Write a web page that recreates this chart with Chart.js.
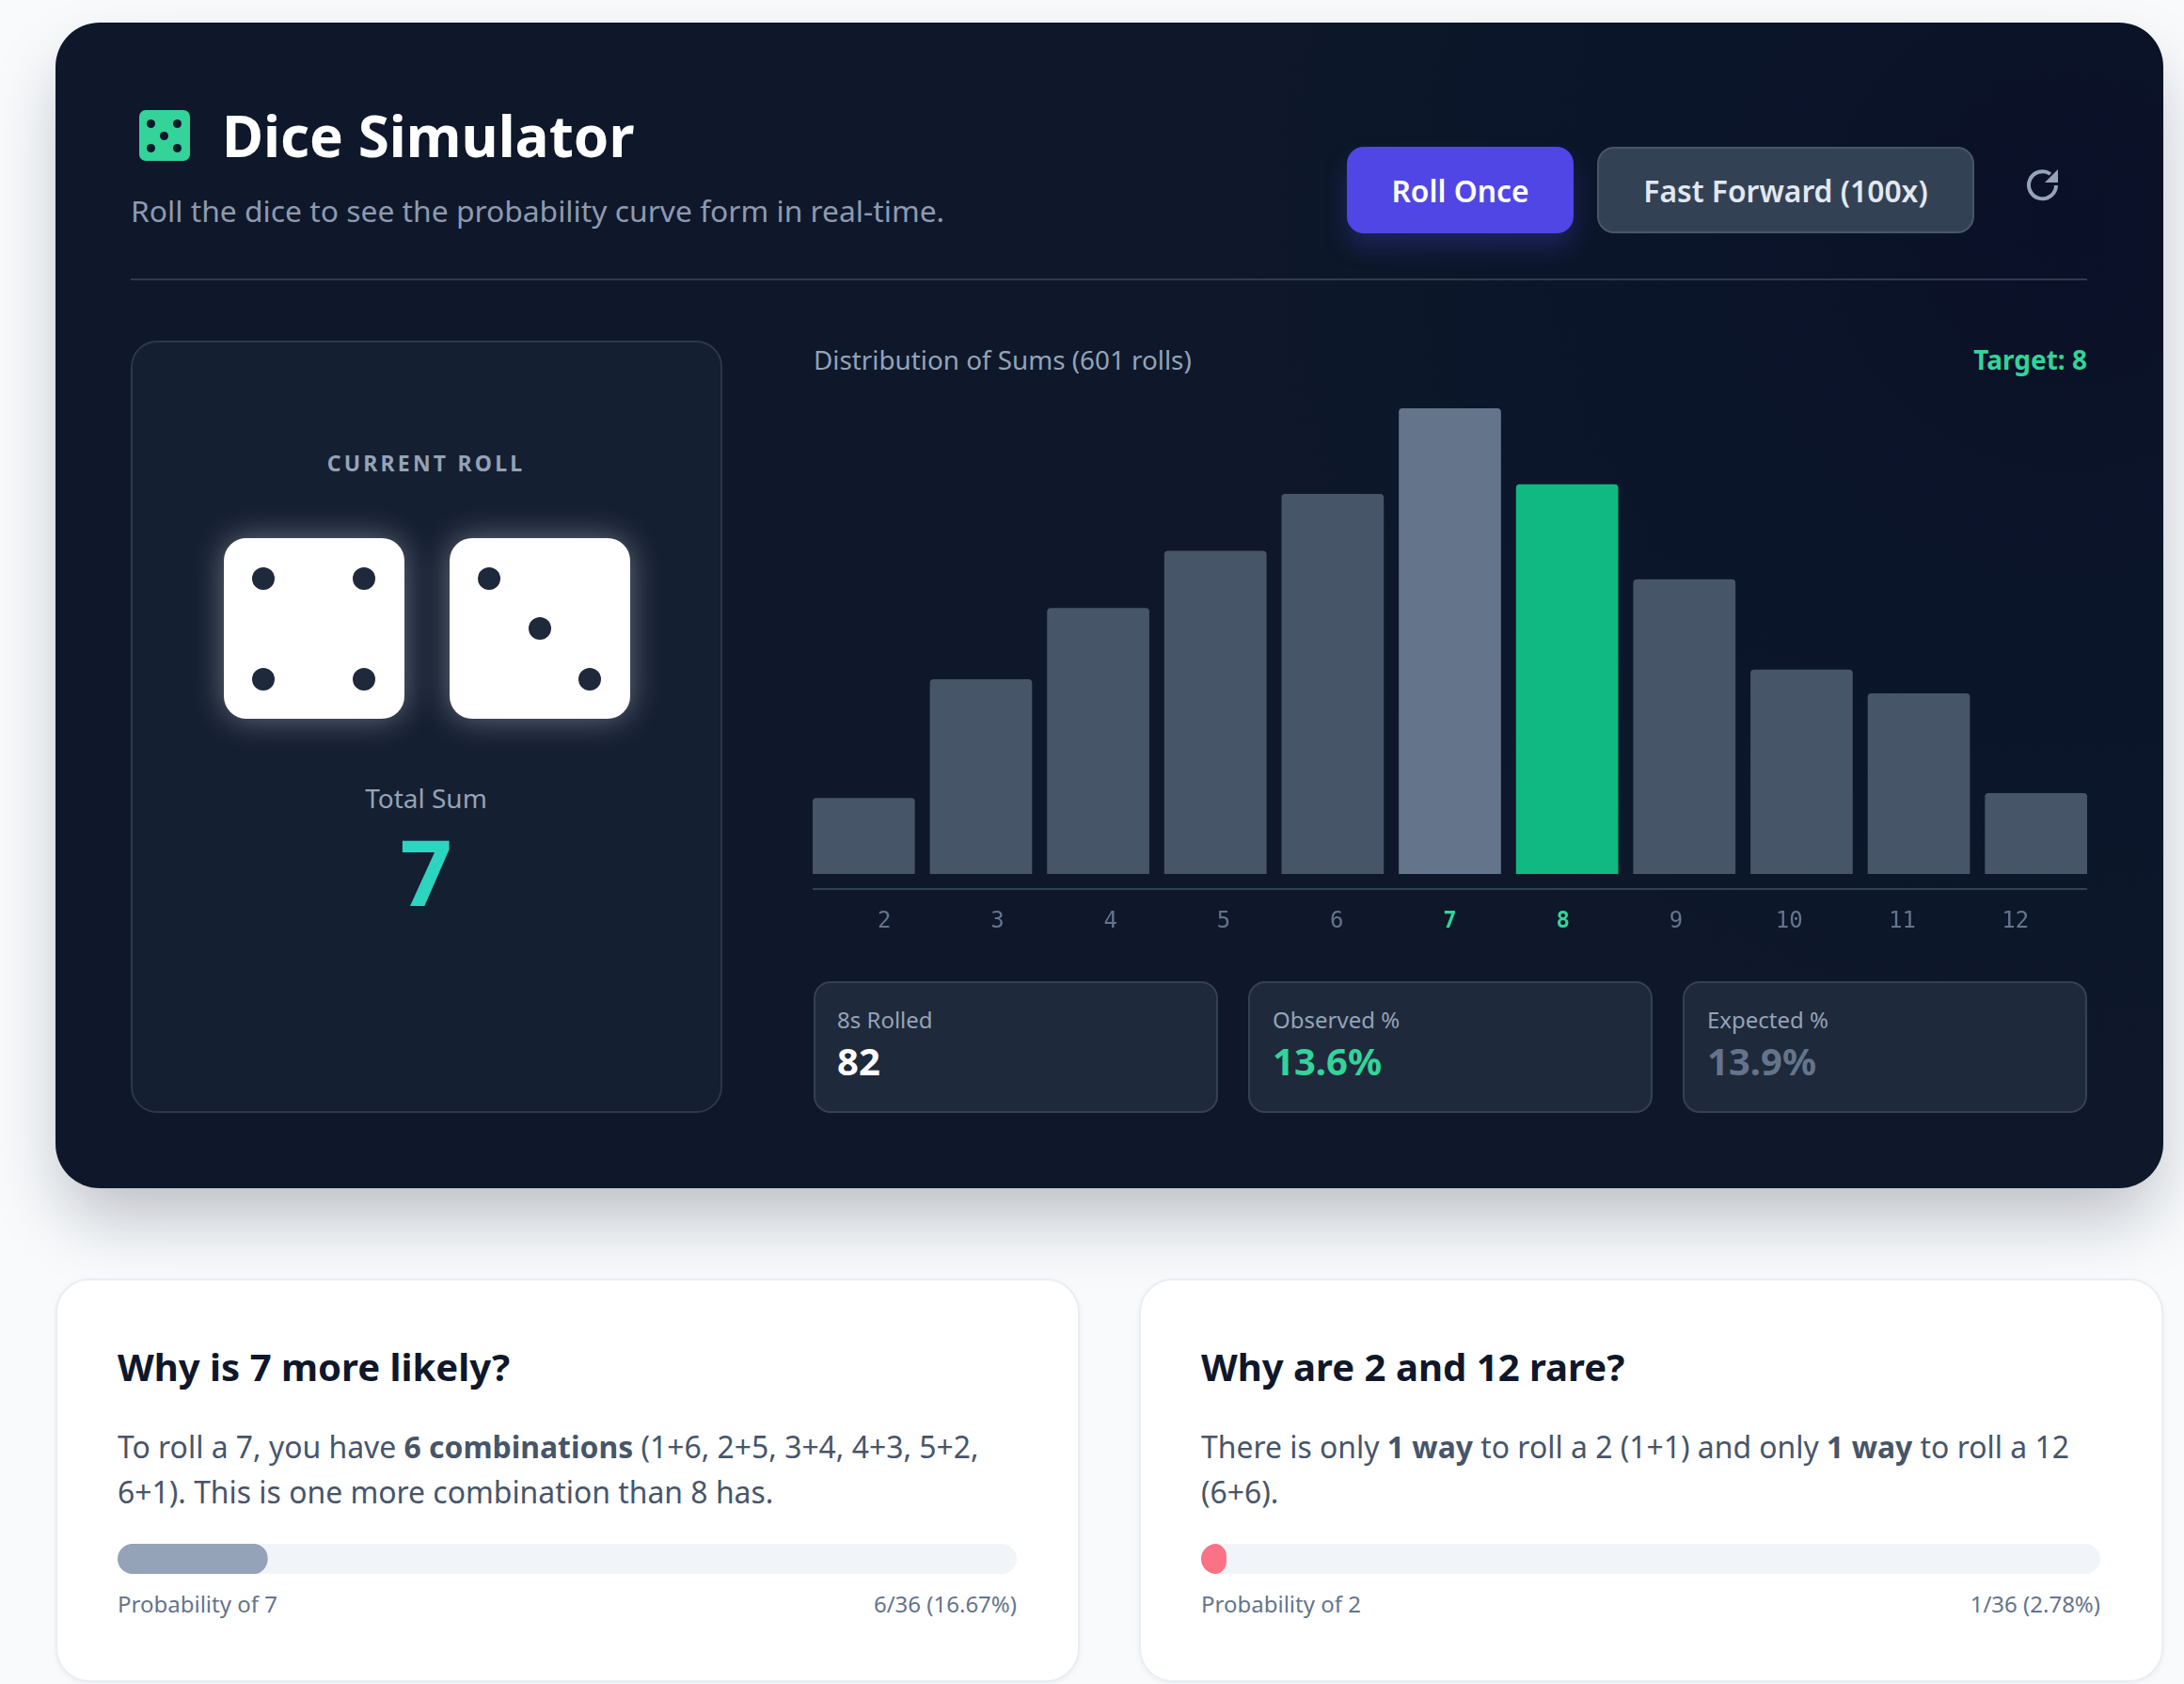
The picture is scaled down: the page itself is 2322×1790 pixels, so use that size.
<!DOCTYPE html>
<html>
<head>
<meta charset="utf-8">
<title>Dice Simulator</title>
<script src="https://cdn.jsdelivr.net/npm/chart.js@4/dist/chart.umd.min.js"></script>
<style>
  html, body { margin: 0; padding: 0; background: #f8fafc; }
  body { position: relative; width: 2322px; height: 1790px; overflow: hidden; font-family: "Noto Sans", sans-serif; }
  .abs { position: absolute; }
  .txt { position: absolute; white-space: nowrap; transform: translateY(-50%); line-height: 1.2; }
  .center { transform: translate(-50%, -50%); }
  .right { transform: translate(-100%, -50%); }
  #panel {
    left: 59px; top: 24px; width: 2241px; height: 1239px; border-radius: 47px;
    background: radial-gradient(circle at 2140px 220px, #0a1027 0, #0b152a 420px, #0e182a 900px);
    box-shadow: 0 37px 74px -10px rgba(15, 23, 42, .28);
  }
  #icon { left: 148px; top: 117px; width: 54px; height: 54px; border-radius: 7px; background: #34d399; }
  .ipip { position: absolute; width: 9px; height: 9px; border-radius: 50%; background: #0e182a; }
  .btn { position: absolute; box-sizing: border-box; top: 156px; height: 92px; border-radius: 18px; display: flex; align-items: center; justify-content: center; font-size: 31.8px; font-weight: 600; }
  #divider { left: 139px; top: 296px; width: 2080px; height: 2px; background: #2e3b4f; }
  #rollCard { left: 139px; top: 362px; width: 629px; height: 821px; box-sizing: border-box; border-radius: 28px; background: #151f32; border: 2px solid #2b384c; }
  .die { position: absolute; top: 572px; width: 192px; height: 192px; border-radius: 24px; background: #fff; box-shadow: 0 0 34px rgba(255, 255, 255, .36); }
  .pip { position: absolute; width: 24px; height: 24px; border-radius: 50%; background: #1e293b; }
  .stat { position: absolute; box-sizing: border-box; top: 1043px; width: 430px; height: 140px; border-radius: 18px; background: #1e293b; border: 2px solid #334155; }
  #chartWrap { left: 856px; top: 434px; width: 1371px; height: 571px; }
  .card { position: absolute; box-sizing: border-box; top: 1359px; width: 1089px; height: 429px; border-radius: 36px; background: #fff; border: 2px solid #e9eef4; box-shadow: 0 2px 6px rgba(15, 23, 42, .05); }
  .track { position: absolute; top: 1641px; width: 956px; height: 32px; border-radius: 16px; background: #f1f5f9; overflow: hidden; }
  .cardTitle { font-size: 40.1px; font-weight: 700; color: #0f172a; }
  .cardBody { font-size: 31.9px; color: #475569; }
  .cardBody b { font-weight: 700; }
  .barLabel { font-size: 24px; color: #64748b; }
</style>
</head>
<body>
<div class="abs" id="panel"></div>

<div class="abs" id="icon"></div>
<div class="txt" style="left:236px;top:144px;font-size:60.2px;font-weight:700;color:#fff">Dice Simulator</div>
<div class="txt" style="left:139px;top:224px;font-size:31.8px;color:#8e9ab0">Roll the dice to see the probability curve form in real-time.</div>

<div class="btn" style="left:1432px;width:241px;background:#4f46e5;color:#fff;box-shadow:0 15px 24px rgba(79,70,229,.25)">Roll Once</div>
<div class="btn" style="left:1698px;width:401px;background:#334155;border:2px solid #475569;color:#e2e8f0">Fast Forward (100x)</div>
<svg class="abs" style="left:2153px;top:178px" width="38" height="38" viewBox="0 0 38 38" fill="none">
  <path d="M33 19 A14.5 14.5 0 1 1 27 7" stroke="#94a3b8" stroke-width="4"/>
  <path d="M35 2 V16 H21 Z" fill="#94a3b8"/>
</svg>

<div class="abs" id="divider"></div>

<div class="abs" id="rollCard"></div>
<div class="txt center" style="left:453px;top:493px;font-size:23px;font-weight:700;letter-spacing:3.2px;color:#94a3b8">CURRENT ROLL</div>
<div class="die" style="left:238px">
  <div class="pip" style="left:30px;top:31px"></div>
  <div class="pip" style="left:137px;top:31px"></div>
  <div class="pip" style="left:30px;top:138px"></div>
  <div class="pip" style="left:137px;top:138px"></div>
</div>
<div class="die" style="left:478px">
  <div class="pip" style="left:30px;top:31px"></div>
  <div class="pip" style="left:84px;top:84px"></div>
  <div class="pip" style="left:137px;top:138px"></div>
</div>
<div class="txt center" style="left:453px;top:849px;font-size:28px;color:#94a3b8">Total Sum</div>
<div class="txt center" style="left:453px;top:925px;font-size:97px;font-weight:700;color:#2dd4bf">7</div>

<div class="txt" style="left:865px;top:383px;font-size:27.8px;color:#94a3b8">Distribution of Sums (601 rolls)</div>
<div class="txt right" style="left:2219px;top:383px;font-size:28px;font-weight:700;color:#34d399">Target: 8</div>

<div class="abs" id="chartWrap"><canvas id="sumsChart"></canvas></div>

<div class="stat" style="left:865px"></div>
<div class="stat" style="left:1327px"></div>
<div class="stat" style="left:1789px"></div>
<div class="txt" style="left:890px;top:1084px;font-size:24px;color:#94a3b8">8s Rolled</div>
<div class="txt" style="left:890px;top:1128px;font-size:40px;font-weight:700;color:#fff">82</div>
<div class="txt" style="left:1353px;top:1084px;font-size:24px;color:#94a3b8">Observed %</div>
<div class="txt" style="left:1353px;top:1128px;font-size:40px;font-weight:700;color:#34d399">13.6%</div>
<div class="txt" style="left:1815px;top:1084px;font-size:24px;color:#94a3b8">Expected %</div>
<div class="txt" style="left:1815px;top:1128px;font-size:40px;font-weight:700;color:#64748b">13.9%</div>

<div class="card" style="left:59px"></div>
<div class="txt cardTitle" style="left:125px;top:1453px">Why is 7 more likely?</div>
<div class="txt cardBody" style="left:125px;top:1538px">To roll a 7, you have <b>6 combinations</b> (1+6, 2+5, 3+4, 4+3, 5+2,</div>
<div class="txt cardBody" style="left:125px;top:1586px">6+1). This is one more combination than 8 has.</div>
<div class="track" style="left:125px"><canvas id="probSeven"></canvas></div>
<div class="txt barLabel" style="left:125px;top:1705px">Probability of 7</div>
<div class="txt right barLabel" style="left:1081px;top:1705px">6/36 (16.67%)</div>

<div class="card" style="left:1211px"></div>
<div class="txt cardTitle" style="left:1277px;top:1453px">Why are 2 and 12 rare?</div>
<div class="txt cardBody" style="left:1277px;top:1538px">There is only <b>1 way</b> to roll a 2 (1+1) and only <b>1 way</b> to roll a 12</div>
<div class="txt cardBody" style="left:1277px;top:1586px">(6+6).</div>
<div class="track" style="left:1277px"><canvas id="probTwo"></canvas></div>
<div class="txt barLabel" style="left:1277px;top:1705px">Probability of 2</div>
<div class="txt right barLabel" style="left:2233px;top:1705px">1/36 (2.78%)</div>

<script>
const sums = [2, 3, 4, 5, 6, 7, 8, 9, 10, 11, 12];
const rollCounts = [16, 41, 56, 68, 80, 98, 82, 62, 43, 38, 17];
const mostLikelySum = 7;
const targetSum = 8;
const combinationsOfSeven = [6];
const combinationsOfTwo = [1];
const totalCombinations = 36;

const barColor = '#475569';
const mostLikelyColor = '#64748b';
const targetColor = '#10b981';
const accentText = '#34d399';
const tickColor = '#64748b';

// the dice grid draws its baseline a little under the bars, and its
// number row is spaced tighter than the bars are
const baseGap = -3.17;
const tickMin = 1.3;
const tickMax = 12.7;
const lineInset = 8;

Chart.defaults.animation = false;

const baseline = {
  id: 'baseline',
  afterDraw(chart) {
    const { ctx, chartArea } = chart;
    ctx.save();
    ctx.strokeStyle = '#334155';
    ctx.lineWidth = 2;
    ctx.beginPath();
    ctx.moveTo(chartArea.left + lineInset, chartArea.bottom);
    ctx.lineTo(chartArea.right - lineInset, chartArea.bottom);
    ctx.stroke();
    ctx.restore();
  }
};

const isHighlighted = ctx => !!ctx.tick && (ctx.tick.value === mostLikelySum || ctx.tick.value === targetSum);

new Chart(document.getElementById('sumsChart'), {
  type: 'bar',
  plugins: [baseline],
  data: {
    labels: sums,
    datasets: [{
      data: rollCounts,
      backgroundColor: sums.map(s => s === targetSum ? targetColor : s === mostLikelySum ? mostLikelyColor : barColor),
      barPercentage: 0.872,
      categoryPercentage: 1,
      borderRadius: { topLeft: 4, topRight: 4, bottomLeft: 0, bottomRight: 0 },
      borderSkipped: false
    }]
  },
  options: {
    responsive: true,
    maintainAspectRatio: false,
    layout: { padding: 0 },
    plugins: { legend: { display: false }, tooltip: { enabled: false } },
    scales: {
      x: { display: false },
      y: { display: false, min: baseGap, max: Math.max(...rollCounts) },
      numbers: {
        type: 'linear',
        position: 'bottom',
        offset: false,
        min: tickMin,
        max: tickMax,
        grid: { display: false, drawTicks: false, offset: false },
        border: { display: false },
        afterBuildTicks: scale => { scale.ticks = sums.map(value => ({ value })); },
        afterFit: scale => { scale.height = 60; },
        ticks: {
          autoSkip: false,
          maxRotation: 0,
          padding: 20,
          callback: v => String(v),
          color: ctx => isHighlighted(ctx) ? accentText : tickColor,
          font: {
            family: '"DejaVu Sans Mono", monospace',
            size: 24,
            weight: ctx => isHighlighted(ctx) ? 'bold' : 'normal'
          }
        }
      }
    }
  }
});

function probabilityBar(id, values, color) {
  new Chart(document.getElementById(id), {
    type: 'bar',
    data: {
      labels: [''],
      datasets: [{
        data: values,
        backgroundColor: color,
        barPercentage: 1,
        categoryPercentage: 1,
        borderRadius: 16,
        borderSkipped: false
      }]
    },
    options: {
      indexAxis: 'y',
      responsive: true,
      maintainAspectRatio: false,
      layout: { padding: 0 },
      plugins: { legend: { display: false }, tooltip: { enabled: false } },
      scales: {
        x: { display: false, min: 0, max: totalCombinations },
        y: { display: false }
      }
    }
  });
}

probabilityBar('probSeven', combinationsOfSeven, '#94a3b8');
probabilityBar('probTwo', combinationsOfTwo, '#fb7185');

// five pips on the header icon
const iconPips = [[8, 10], [36, 10], [22, 23], [8, 36], [36, 36]];
const icon = document.getElementById('icon');
iconPips.forEach(([l, t]) => {
  const p = document.createElement('div');
  p.className = 'ipip';
  p.style.left = l + 'px';
  p.style.top = t + 'px';
  icon.appendChild(p);
});
</script>
</body>
</html>
